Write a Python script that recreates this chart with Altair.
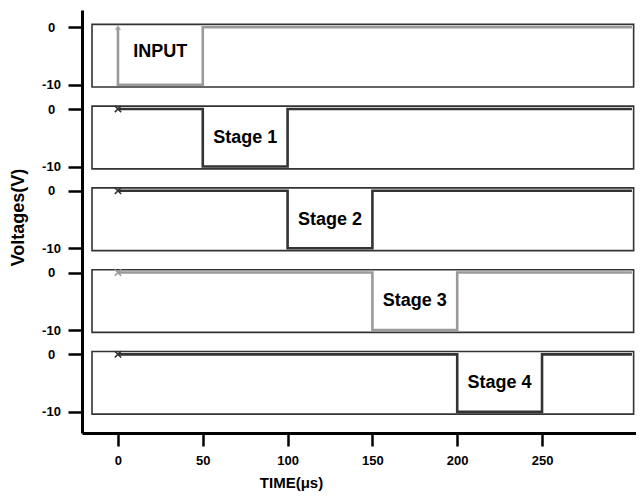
import altair as alt
import pandas as pd

# ---- data ----
series_names = ["INPUT", "Stage 1", "Stage 2", "Stage 3", "Stage 4"]
series_times = [
    [0, 0, 50, 50, 303],
    [0, 50, 50, 100, 100, 303],
    [0, 100, 100, 150, 150, 303],
    [0, 150, 150, 200, 200, 303],
    [0, 200, 200, 250, 250, 303],
]
series_volts = [
    [0, -10, -10, 0, 0],
    [0, 0, -10, -10, 0, 0],
    [0, 0, -10, -10, 0, 0],
    [0, 0, -10, -10, 0, 0],
    [0, 0, -10, -10, 0, 0],
]
series_colors = ["#9a9a9a", "#333333", "#333333", "#9a9a9a", "#333333"]
label_times = [25, 75, 125, 175, 225]
label_volts = [-4.3, -5.0, -5.0, -5.0, -5.0]
marker_times = [0, 0, 0, 0, 0]
marker_volts = [0, 0, 0, 0, 0]
x_ticks = [0, 50, 100, 150, 200, 250]
y_ticks = [0, -10]

# ---- layout constants ----
P = 14.22          # vertical offset between stacked panels (in volts)
BOX_TOP, BOX_BOT = 0.5, -10.4
BOX_L, BOX_R = -15.3, 304
XDOM = [-21.2, 305.4]
YDOM = [-70.56, 3.0]
FONT = "Liberation Sans"

rows = []
for i, (name, ts, vs) in enumerate(zip(series_names, series_times, series_volts)):
    for j, (t, v) in enumerate(zip(ts, vs)):
        rows.append(dict(series=name, panel=i, idx=j, t=t, v=v, y=v - i * P))
sig = pd.DataFrame(rows)

boxes = pd.DataFrame({
    "panel": list(range(5)),
    "x": [BOX_L] * 5,
    "x2": [BOX_R] * 5,
    "top": [BOX_TOP - i * P for i in range(5)],
    "bot": [BOX_BOT - i * P for i in range(5)],
})

labels = pd.DataFrame({
    "series": series_names,
    "t": label_times,
    "y": [v - i * P for i, v in enumerate(label_volts)],
})

markers = pd.DataFrame({
    "series": series_names,
    "t": marker_times,
    "y": [v - i * P for i, v in enumerate(marker_volts)],
})

y_values = [v - i * P for i in range(5) for v in y_ticks]

color = alt.Color("series:N", scale=alt.Scale(domain=series_names, range=series_colors), legend=None)

xscale = alt.Scale(domain=XDOM, nice=False, zero=False)
yscale = alt.Scale(domain=YDOM, nice=False, zero=False)

xaxis = alt.Axis(
    values=x_ticks, grid=False, domainColor="black", domainWidth=3,
    tickColor="black", tickWidth=2.5, tickSize=13,
    labelFont=FONT, labelFontSize=13, labelFontWeight="bold", labelColor="black",
    labelPadding=8,
    title="TIME(μs)", titleFont=FONT, titleFontSize=15, titleFontWeight="bold",
    titleColor="black", titleX=209, titleY=49, titleAlign="center", titleBaseline="middle",
)
yaxis = alt.Axis(
    values=y_values, grid=False, domainColor="black", domainWidth=3,
    tickColor="black", tickWidth=2.5, tickSize=14,
    labelFont=FONT, labelFontSize=13, labelFontWeight="bold", labelColor="black",
    labelAlign="center", labelBaseline="middle", labelPadding=17,
    labelExpr=f"'' + round(datum.value + {P}*floor(-datum.value/{P} + 0.01))",
    title="Voltages(V)", titleFont=FONT, titleFontSize=18, titleFontWeight="bold",
    titleColor="black", titleX=-64, titleY=207, titleAlign="center", titleBaseline="middle",
    titleAngle=270,
)

box_layer = alt.Chart(boxes).mark_rect(fill=None, stroke="#333333", strokeWidth=1.6).encode(
    x=alt.X("x:Q", scale=xscale, axis=xaxis),
    x2="x2:Q",
    y=alt.Y("top:Q", scale=yscale, axis=yaxis),
    y2="bot:Q",
)

line_layer = alt.Chart(sig).mark_line(strokeWidth=2.6, strokeJoin="miter").encode(
    x=alt.X("t:Q", scale=xscale),
    y=alt.Y("y:Q", scale=yscale),
    color=color,
    detail="series:N",
    order="idx:Q",
)

tri_layer = alt.Chart(markers[markers.series == "INPUT"]).mark_point(
    shape="triangle-up", filled=True, size=40
).encode(x="t:Q", y="y:Q", color=color)

x_layer = alt.Chart(markers[markers.series != "INPUT"]).mark_point(
    shape="M-1,-1L1,1M1,-1L-1,1", filled=False, size=40, strokeWidth=1.6, opacity=1
).encode(x="t:Q", y="y:Q", color=color)

text_layer = alt.Chart(labels).mark_text(
    font=FONT, fontSize=18, fontWeight="bold", color="black", align="center", baseline="middle"
).encode(x="t:Q", y="y:Q", text="series:N")

chart = alt.layer(box_layer, line_layer, tri_layer, x_layer, text_layer).properties(
    width=554, height=423,
    autosize=alt.AutoSizeParams(type="none"),
    padding={"left": 74, "top": 2, "right": 0, "bottom": 58},
).configure_view(stroke=None)

chart.save("out.html", embed_options={"renderer": "svg", "actions": False})
